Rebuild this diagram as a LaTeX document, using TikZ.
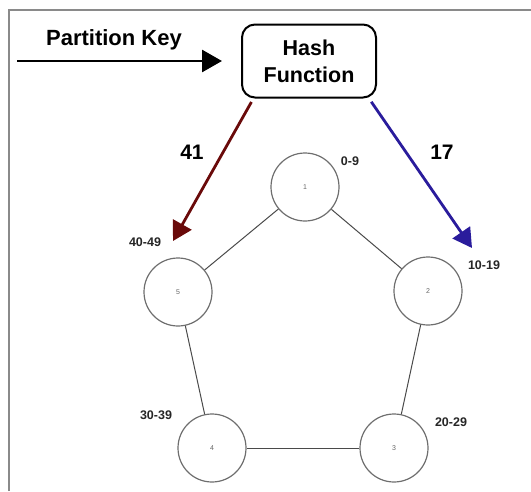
\documentclass[tikz,border=0pt]{standalone}
\usepackage{fontspec}
\setmainfont{Liberation Sans}
\usetikzlibrary{arrows.meta}

\definecolor{framegray}{HTML}{8A8A8A}
\definecolor{ringgray}{HTML}{6E6E6E}
\definecolor{edgegray}{HTML}{4A4A4A}
\definecolor{routered}{HTML}{6A0A0A}
\definecolor{routeblue}{HTML}{2A1C9C}

\tikzset{
  ring/.style={circle, draw=ringgray, line width=1.2pt, minimum size=68pt, inner sep=0pt,
    font=\fontsize{7}{8}\selectfont, text=black!60},
  ringlink/.style={draw=edgegray, line width=1pt},
  rangelabel/.style={font=\bfseries\fontsize{12.5}{14}\selectfont, text=black!85},
  hashbox/.style={draw, rounded corners=13pt, line width=2pt, minimum width=134pt,
    minimum height=73pt, align=center, font=\bfseries\fontsize{21.5}{27}\selectfont},
  bigtext/.style={font=\bfseries\fontsize{21}{24}\selectfont},
  route/.style={line width=2.8pt, -{Triangle[length=19pt,width=21pt]}}
}

\begin{document}
\begin{tikzpicture}[x=1pt,y=-1pt]
  \useasboundingbox (0,0) rectangle (531,491);

  % outer frame (top and left edges)
  \draw[framegray, line width=2pt] (9,491) -- (9,10) -- (531,10);

  % hash function box and input
  \node[hashbox] (hash) at (309,61) {Hash\\Function};
  \node[bigtext, font=\bfseries\fontsize{22}{24}\selectfont] (pk) at (114,40) {Partition Key};
  \coordinate (pkstart) at (17,61);
  \draw[route, -{Triangle[length=20pt,width=22pt]}, shorten >=19pt] (pkstart) -- (hash.west);

  % ring of partitions
  \node[ring] (n1) at (305,187) {1};
  \node[ring] (n2) at (428,291) {2};
  \node[ring] (n3) at (394,448) {3};
  \node[ring] (n4) at (212,448) {4};
  \node[ring] (n5) at (178,292) {5};

  \draw[ringlink] (n1) -- (n2);
  \draw[ringlink] (n2) -- (n3);
  \draw[ringlink] (n3) -- (n4);
  \draw[ringlink] (n4) -- (n5);
  \draw[ringlink] (n5) -- (n1);

  % key ranges
  \node[rangelabel] (r1) at (350,161) {0-9};
  \node[rangelabel] (r2) at (484,265) {10-19};
  \node[rangelabel] (r3) at (451,422) {20-29};
  \node[rangelabel] (r4) at (156,415) {30-39};
  \node[rangelabel] (r5) at (145,242) {40-49};

  % routed keys
  \coordinate (redtip) at (173,241);
  \coordinate (bluetip) at (472,248);
  \draw[route, routered, shorten <=4pt] (hash.214) -- (redtip);
  \draw[route, routeblue, shorten <=4pt] (hash.328) -- (bluetip);
  \node[bigtext] (k41) at (192,152) {41};
  \node[bigtext] (k17) at (442,152) {17};
\end{tikzpicture}
\end{document}
